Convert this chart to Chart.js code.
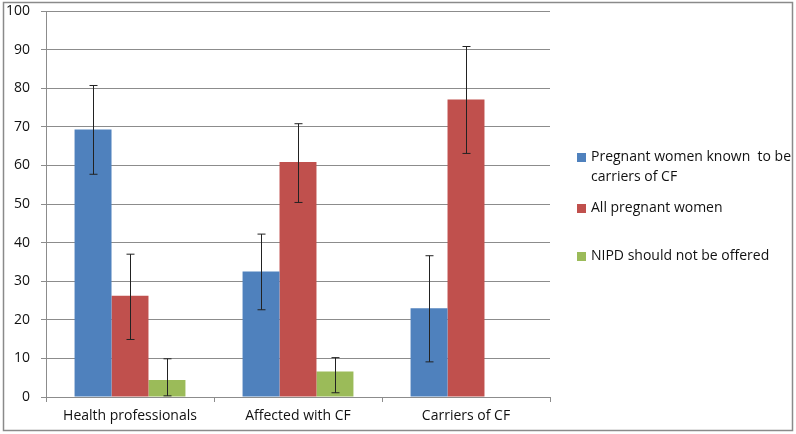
<!DOCTYPE html>
<html>
<head>
<meta charset="utf-8">
<script src="https://cdn.jsdelivr.net/npm/chart.js@4/dist/chart.umd.min.js"></script>
<style>
  html, body { margin: 0; padding: 0; background: #fff; }
  #wrap { width: 796px; height: 434px; }
</style>
</head>
<body>
<div id="wrap"><canvas id="myChart" width="796" height="434"></canvas></div>
<script>
// data
const categories = ['Health professionals', 'Affected with CF', 'Carriers of CF'];
const seriesNames = ['Pregnant women known to be carriers of CF', 'All pregnant women', 'NIPD should not be offered'];
const knownCarriers = [69.3, 32.5, 23.0];
const knownCarriersLow = [57.7, 22.6, 9.1];
const knownCarriersHigh = [80.7, 42.2, 36.6];
const allPregnant = [26.2, 60.9, 77.1];
const allPregnantLow = [14.9, 50.4, 63.1];
const allPregnantHigh = [37.0, 70.8, 90.8];
const notOffered = [4.4, 6.6, null];
const notOfferedLow = [0.3, 1.1, null];
const notOfferedHigh = [9.9, 10.2, null];
const yTicks = [0, 10, 20, 30, 40, 50, 60, 70, 80, 90, 100];

const colors = ['#4f81bd', '#c0504d', '#9bbb59'];
const fontFam = "'Open Sans', 'Noto Sans', sans-serif";

// error bars drawn through the y scale
const errorBars = {
    id: 'errorBars',
    afterDatasetsDraw(chart) {
        const c = chart.ctx;
        const y = chart.scales.y;
        chart.data.datasets.forEach((ds, i) => {
            const meta = chart.getDatasetMeta(i);
            meta.data.forEach((bar, j) => {
                const lo = ds.errLow[j], hi = ds.errHigh[j];
                if (lo == null || hi == null) return;
                const x = Math.round(bar.x) + 0.5;
                const yLo = y.getPixelForValue(lo);
                const yHi = y.getPixelForValue(hi);
                c.save();
                c.strokeStyle = '#222';
                c.lineWidth = 1;
                c.beginPath();
                c.moveTo(x, yHi); c.lineTo(x, yLo);
                c.moveTo(x - 4, yHi); c.lineTo(x + 4, yHi);
                c.moveTo(x - 4, yLo); c.lineTo(x + 4, yLo);
                c.stroke();
                c.restore();
            });
        });
    }
};

// legend on the right, drawn by hand so the first label wraps like the original
const legendLines = [['Pregnant women known  to be', 'carriers of CF'], ['All pregnant women'], ['NIPD should not be offered']];
const legendY = [157.5, 208.5, 256.5];
const sideLegend = {
    id: 'sideLegend',
    afterDraw(chart) {
        const c = chart.ctx;
        c.save();
        c.font = '14px ' + fontFam;
        c.textBaseline = 'middle';
        legendLines.forEach((lines, i) => {
            c.fillStyle = chart.data.datasets[i].backgroundColor;
            c.fillRect(577, legendY[i] - 4.5, 9, 9);
            c.fillStyle = '#111';
            lines.forEach((t, k) => c.fillText(t, 591, legendY[i] + k * 20));
        });
        // outer frame
        c.strokeStyle = '#8a8a8a';
        c.lineWidth = 1.5;
        c.strokeRect(3.5, 2.5, 789, 428);
        c.restore();
    }
};

let ctx = document.getElementById('myChart').getContext('2d');
let myChart = new Chart(ctx, {
    type: 'bar',
    data: {
        labels: categories,
        datasets: [
            { label: seriesNames[0], data: knownCarriers, errLow: knownCarriersLow, errHigh: knownCarriersHigh, backgroundColor: colors[0] },
            { label: seriesNames[1], data: allPregnant, errLow: allPregnantLow, errHigh: allPregnantHigh, backgroundColor: colors[1] },
            { label: seriesNames[2], data: notOffered, errLow: notOfferedLow, errHigh: notOfferedHigh, backgroundColor: colors[2] }
        ]
    },
    options: {
        responsive: false,
        animation: false,
        layout: { padding: { left: 0, top: 11, right: 246, bottom: 0 } },
        datasets: { bar: { categoryPercentage: 0.66, barPercentage: 1.0 } },
        plugins: { legend: { display: false }, tooltip: { enabled: false } },
        scales: {
            x: {
                grid: { offset: true, drawOnChartArea: false, drawTicks: true, tickLength: 5, color: '#8c8c8c' },
                border: { color: '#8c8c8c' },
                ticks: { color: '#111', padding: 6, font: { family: fontFam, size: 14 } },
                afterFit: s => { s.height = 37; s.paddingLeft = 0; s.paddingRight = 0; }
            },
            y: {
                min: 0, max: 100,
                afterBuildTicks: s => { s.ticks = yTicks.map(v => ({ value: v })); },
                grid: { color: '#8c8c8c', tickLength: 5 },
                border: { color: '#8c8c8c' },
                ticks: { color: '#111', padding: 11, font: { family: fontFam, size: 14 } },
                afterFit: s => { s.width = 46; s.paddingTop = 0; s.paddingBottom = 0; }
            }
        }
    },
    plugins: [errorBars, sideLegend]
});
</script>
</body>
</html>
